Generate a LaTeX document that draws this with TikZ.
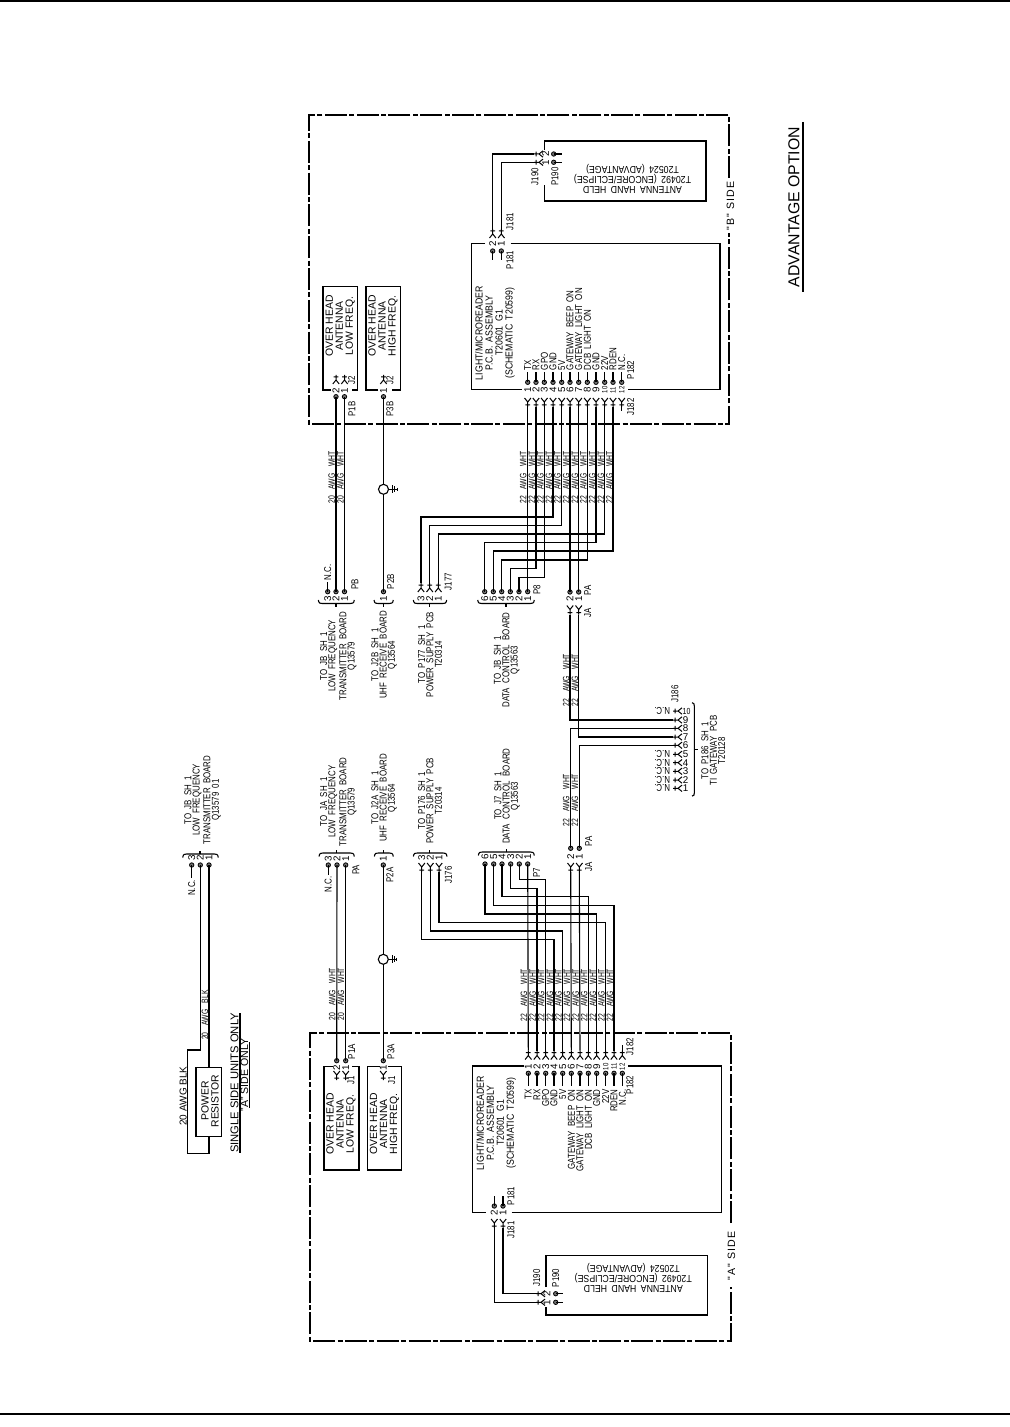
\documentclass[tikz,border=0pt]{standalone}
\usepackage{fontspec}
\setmainfont{Liberation Sans}
\newfontfamily\condA[FakeStretch=0.79,WordSpace=2]{Liberation Sans}
\newfontfamily\condB[FakeStretch=0.86,WordSpace=1.8]{Liberation Sans}
\newfontfamily\condW[FakeStretch=0.74,WordSpace=3.5]{Liberation Sans}
\newfontfamily\wideF[LetterSpace=12]{Liberation Sans}
\usetikzlibrary{calc}
\newcommand{\Dp}[3]{\node[dpin] (#1) at (#2,#3) {};}
\newcommand{\Fk}[4]{\coordinate (#1) at (#2,#3); \pic[rotate=#4] at (#1) {forkp};}
\newcommand{\BrH}[5]{\draw[wire] (#1,#3+#4) .. controls (#1+0.5,#3) and (#1+2,#3) .. (#1+4,#3) -- (#2-4,#3) .. controls (#2-2,#3) and (#2-0.5,#3) .. (#2,#3+#4);
  \draw[wire] ({(#1+#2)/2+#5},#3) -- ++(0,-#4);}
\tikzset{
  x=0.5pt,y=-0.5pt,
  wire/.style={line width=0.55pt,line cap=butt},
  boxline/.style={line width=0.65pt,line join=miter},
  frameline/.style={line width=0.6pt,dash pattern=on 11pt off 1.2pt on 2.5pt off 1.2pt},
  dpin/.style={circle,draw,fill=black!55,line width=0.4pt,inner sep=0pt,minimum size=2.2pt},
  txt/.style={rotate=90,inner sep=0pt,align=center,font=\condA\fontsize{5}{5}\selectfont},
  plainblock/.style={rotate=90,inner sep=0pt,align=center,font=\fontsize{5.2}{5}\selectfont},
  mainblock/.style={rotate=90,inner sep=0pt,align=center,font=\condB\fontsize{5.1}{5}\selectfont},
  tght/.style={rotate=90,inner sep=0pt,align=center,font=\condA\fontsize{5}{4.15}\selectfont},
  flip/.style={rotate=180,inner sep=0pt,align=center,font=\condB\fontsize{5.1}{5}\selectfont},
  awg/.style={rotate=90,inner sep=0pt,font=\condW\fontsize{4.6}{5}\selectfont},
  sidelbl/.style={rotate=90,inner sep=0pt,font=\wideF\fontsize{5.3}{5}\selectfont},
  num/.style={rotate=90,inner sep=0pt,font=\fontsize{4.9}{5}\selectfont},
  numtwo/.style={rotate=90,inner sep=0pt,font=\condA\fontsize{3.8}{5}\selectfont},
  numflat/.style={inner sep=0pt,font=\fontsize{4.9}{5}\selectfont},
  forkp/.pic={\draw[line width=0.5pt] (0,0) -- (0,5) (-2.4,2) -- (2.4,2) (-3.2,9) -- (0,5) -- (3.2,9);},
  gndp/.pic={\draw[line width=0.5pt] (5,0) -- (13,0) (9,-4) -- (9,4) (11.3,-3) -- (11.3,3) (13.6,-1.7) -- (13.6,1.7);},
}
\begin{document}
\begin{tikzpicture}
\useasboundingbox (0,0) rectangle (1010,1427);
\fill[white] (0,0) rectangle (1010,1427);
% page rules
\draw[line width=0.7pt] (0,1) -- (1010,1);
\draw[line width=0.7pt] (0,1414) -- (1010,1414);
% frames
\draw[frameline] (729,178) -- (729,115) -- (309,115) -- (309,424) -- (729,424) -- (729,233);
\draw[frameline] (731,1223) -- (731,1033) -- (310,1033) -- (310,1341) -- (731,1341) -- (731,1287);
\node[sidelbl] (bside) at (730.5,206) {"B" SIDE};
\node[sidelbl] (aside) at (731.5,1256) {"A" SIDE};
% title
\node[rotate=90,inner sep=0pt,font=\fontsize{7.9}{8}\selectfont] (title) at (794,207) {ADVANTAGE OPTION};
\draw[line width=0.6pt] (803,122) -- (803,292);

% ---------- B side boxes
\draw[boxline] (331,390) -- (323,390) -- (323,286.7) -- (357.5,286.7) -- (357.5,390) -- (352,390);
\draw[boxline] (378,390) -- (366,390) -- (366,286.7) -- (400.5,286.7) -- (400.5,390) -- (392,390);
\node[plainblock] (ohlb) at (340.3,326) {OVER HEAD\\ANTENNA\\LOW FREQ.};
\node[plainblock] (ohhb) at (383,326) {OVER HEAD\\ANTENNA\\HIGH FREQ.};
\draw[boxline] (485,243.7) -- (471.7,243.7) -- (471.7,389.3) -- (521.7,389.3);
\draw[boxline] (510.7,243.7) -- (720,243.7) -- (720,389.3) -- (628,389.3);
\node[mainblock] (mainb) at (495,333) {LIGHT/MICROREADER\\P.C.B. ASSEMBLY\\T20601 G1\\(SCHEMATIC T20599)};
\draw[boxline] (544.3,150) -- (544.3,141) -- (706,141) -- (706,201) -- (544.3,201) -- (544.3,185);
\node[flip] (handb) at (632.5,179) {ANTENNA HAND HELD\\T20492 (ENCORE/ECLIPSE)\\T20524 (ADVANTAGE)};

% ---------- A side boxes
\draw[boxline] (333.3,1066.7) -- (324,1066.7) -- (324,1170) -- (359,1170) -- (359,1066.7) -- (351.7,1066.7);
\draw[boxline] (380,1066.7) -- (367.3,1066.7) -- (367.3,1170) -- (401.7,1170) -- (401.7,1066.7) -- (388,1066.7);
\node[plainblock] (ohla) at (341,1124) {OVER HEAD\\ANTENNA\\LOW FREQ.};
\node[plainblock] (ohha) at (384.5,1124) {OVER HEAD\\ANTENNA\\HIGH FREQ.};
\draw[boxline] (524,1066) -- (472.7,1066) -- (472.7,1212.7) -- (486,1212.7);
\draw[boxline] (511.7,1212.7) -- (721.7,1212.7) -- (721.7,1066) -- (628.3,1066);
\node[mainblock] (maina) at (496.3,1123) {LIGHT/MICROREADER\\P.C.B. ASSEMBLY\\T20601 G1\\(SCHEMATIC T20599)};
\draw[boxline] (546,1287) -- (546,1255.3) -- (707.3,1255.3) -- (707.3,1315) -- (546,1315) -- (546,1306.7);
\node[flip] (handa) at (633.3,1278.3) {ANTENNA HAND HELD\\T20492 (ENCORE/ECLIPSE)\\T20524 (ADVANTAGE)};

% ---------- B main connector P182/J182
\foreach \n/\x/\t in {1/527.7/TX,2/536/RX,3/544.3/GPO,4/553/GND,5/561.7/5V,6/570/GATEWAY BEEP ON,7/578.7/GATEWAY LIGHT ON,8/587.3/DCB LIGHT ON,9/596/GND,10/604.7/22V,11/613/RDEN,12/621.7/N.C.}{
  \Dp{bp\n}{\x}{382.3}
  \Fk{bj\n}{\x}{407}{180}
  \coordinate (bs\n) at (\x,372);
  \draw[wire] (bp\n.center) -- (bs\n);
  \node[txt,anchor=west] (bl\n) at (\x,370.5) {\t};
}
\foreach \n/\x in {1/527.7,2/536,3/544.3,4/553,5/561.7,6/570,7/578.7,8/587.3,9/596}{\node[num] (bn\n) at (\x,390) {\n};}
\foreach \n/\x in {10/604.7,11/613,12/621.7}{\node[numtwo] (bn\n) at (\x,390) {\n};}
\coordinate (bst) at (621.7,411); \draw[wire] (bj12) -- (bst);
\node[txt] (lp182b) at (630.7,370) {P182};
\node[txt] (lj182b) at (630.7,407) {J182};

% ---------- A main connector
\foreach \n/\x/\t in {1/528.3/TX,2/537/RX,3/545.7/GPO,4/554/GND,5/562.7/5V,6/571.3/GATEWAY BEEP ON,7/580/GATEWAY LIGHT ON,8/588.3/DCB LIGHT ON,9/596.7/GND,10/605.7/22V,11/614/RDEN,12/622.3/N.C.}{
  \Dp{ap\n}{\x}{1073.3}
  \Fk{aj\n}{\x}{1050.5}{0}
  \coordinate (as\n) at (\x,1086);
  \draw[wire] (ap\n.center) -- (as\n);
  \node[txt,anchor=east] (al\n) at (\x,1089) {\t};
}
\foreach \n/\x in {1/528.3,2/537,3/545.7,4/554,5/562.7,6/571.3,7/580,8/588.3,9/596.7}{\node[num] (an\n) at (\x,1066.7) {\n};}
\foreach \n/\x in {10/605.7,11/614,12/622.3}{\node[numtwo] (an\n) at (\x,1066.7) {\n};}
\coordinate (ast) at (622.3,1045); \draw[wire] (aj12) -- (ast);
\node[txt] (lp182a) at (630,1085) {P182};
\node[txt] (lj182a) at (630,1046.7) {J182};

% ---------- overhead antenna pins B
\foreach \n/\x/\k in {2/336/2,1/344.5/1,3/383.5/1}{
  \Dp{ob\n}{\x}{396.7}
  \Fk{oj\n}{\x}{375}{0}
  \node[num] (obn\n) at (\x,390.5) {\k};
}
\node[txt] (lj2a) at (351.7,380) {J2};
\node[txt] (lj2b) at (390,380) {J2};
\node[txt] (lp1b) at (352,409) {P1B};
\node[txt] (lp3b) at (390,409) {P3B};

% ---------- PB, P2B
\foreach \n/\x in {3/327.7,2/336,1/344.5}{
  \Dp{pb\n}{\x}{591.7}
  \node[num] (pbn\n) at (\x,598.5) {\n};
}
\coordinate (pbs) at (327.7,581.7); \draw[wire] (pb3.center) -- (pbs);
\node[txt,anchor=west] (ncb) at (327.7,580.5) {N.C.};
\Dp{ptb}{383.5}{591.7}
\node[num] (ptbn) at (383.5,598.5) {1};
\node[txt] (lpb) at (355,584) {PB};
\node[txt] (lp2b) at (390.7,581.7) {P2B};
\BrH{318.3}{354.3}{603.5}{-3.5}{-0.3}
\BrH{374}{393.3}{603.5}{-3.5}{0}
\node[tght] (tojb1) at (338.3,656) {TO JB SH 1\\LOW FREQUENCY\\TRANSMITTER BOARD\\Q13579};
\node[tght] (toj2b) at (384,655) {TO J2B SH 1\\UHF RECEIVE BOARD\\Q13564};
% J177
\foreach \n/\x/\k in {3/421/3,2/429.7/2,1/438.3/1}{
  \Fk{jg\n}{\x}{583}{0}
  \node[num] (jgn\n) at (\x,599) {\k};
}
\node[txt] (lj177) at (448.3,581.7) {J177};
\BrH{413.3}{446.7}{603.5}{-3.5}{-0.5}
\node[tght] (top177) at (430,654.5) {TO P177 SH 1\\POWER SUPPLY PCB\\T20314};
% P8
\foreach \n/\x in {1/527.7,2/519,3/510.3,4/501.7,5/493.3,6/484.7}{
  \Dp{pe\n}{\x}{591.7}
  \node[num] (pen\n) at (\x,599) {\n};
}
\node[txt] (lp8) at (537,590) {P8};
\BrH{477.7}{534.3}{603.5}{-3.5}{0}
\node[tght] (tojb2) at (506.7,660) {TO JB SH 1\\DATA CONTROL BOARD\\Q13563};
% PA / JA B
\Dp{pab2}{570}{592}\Dp{pab1}{578.7}{592}
\node[num] (pabn2) at (570,599) {2};
\node[num] (pabn1) at (578.7,599) {1};
\Fk{jb2}{570}{614.5}{180}\Fk{jb1}{578.7}{614.5}{180}
\node[txt] (lpab) at (587.7,590.7) {PA};
\node[txt] (ljab) at (587.7,613) {JA};

% ---------- lower labels A side
\foreach \n/\x in {3/328.3,2/337,1/345.7}{
  \Dp{pa\n}{\x}{865}
  \node[num] (pan\n) at (\x,858.3) {\n};
}
\coordinate (pas) at (328.3,875); \draw[wire] (pa3.center) -- (pas);
\node[txt,anchor=east] (nca) at (328.3,876) {N.C.};
\node[txt] (lpa) at (356,870) {PA};
\Dp{pta}{383.3}{865}
\node[num] (ptan) at (383.3,858.3) {1};
\node[txt] (lp2a) at (390,875) {P2A};
\BrH{319}{354.3}{853}{3.5}{0}
\BrH{374.3}{393.3}{853}{3.5}{0}
\node[tght] (toja) at (338.3,801.7) {TO JA SH 1\\LOW FREQUENCY\\TRANSMITTER BOARD\\Q13579};
\node[tght] (toj2a) at (384,798) {TO J2A SH 1\\UHF RECEIVE BOARD\\Q13564};
\foreach \n/\x/\k in {3/421.7/3,2/430.3/2,1/439/1}{
  \Fk{jf\n}{\x}{872}{180}
  \node[num] (jfn\n) at (\x,857.3) {\k};
}
\node[txt] (lj176) at (448.3,875) {J176};
\BrH{413.3}{447}{853}{3.5}{-0.5}
\node[tght] (top176) at (430,800.7) {TO P176 SH 1\\POWER SUPPLY PCB\\T20314};
\foreach \n/\x in {1/527.7,2/519.3,3/510.7,4/502,5/493.7,6/485}{
  \Dp{ps\n}{\x}{864}
  \node[num] (psn\n) at (\x,856.7) {\n};
}
\node[txt] (lp7) at (536.7,873) {P7};
\BrH{478.3}{534.3}{852}{3.5}{0}
\node[tght] (toj7) at (507,796) {TO J7 SH 1\\DATA CONTROL BOARD\\Q13563};
\Dp{paa2}{570.7}{848.3}\Dp{paa1}{579.3}{848.3}
\node[num] (paan2) at (570.7,857) {2};
\node[num] (paan1) at (579.3,857) {1};
\Fk{ja2}{570.7}{872}{180}\Fk{ja1}{579.3}{872}{180}
\node[txt] (lpaa) at (588.7,841.7) {PA};
\node[txt] (ljaa) at (588.7,866.7) {JA};

% ---------- J186
\foreach \n/\y in {9/720,8/728.3,7/737,6/745.3}{
  \Fk{gj\n}{673}{\y}{90}
  \node[numflat] (gn\n) at (685.5,\y) {\n};
}
\foreach \n/\y in {10/711,5/754.3,4/762.7,3/771.3,2/780,1/788.3}{
  \Fk{gj\n}{673}{\y}{90}
  \node[inner sep=0pt,rotate=180,anchor=west,font=\condA\fontsize{5}{5}\selectfont] (gl\n) at (670.5,\y) {N.C.};
}
\foreach \n/\y in {5/754.3,4/762.7,3/771.3,2/780,1/788.3}{\node[numflat] (gn\n) at (685.5,\y) {\n};}
\node[inner sep=0pt,font=\condA\fontsize{4.4}{5}\selectfont] (gn10) at (686.5,711) {10};
\node[txt] (lj186) at (675,694) {J186};
\draw[wire] (692,702.7) .. controls (694,703) and (694.3,704) .. (694.3,706) -- (694.3,793) .. controls (694.3,795) and (694,796) .. (692,796);
\draw[wire] (694.3,749.3) -- (698.3,749.3);
\node[tght] (top186) at (713.3,750.7) {TO P186 SH 1\\TI GATEWAY PCB\\T20128};

% ---------- J181 / J190, B
\foreach \n/\x in {2/492.7,1/501.3}{
  \Dp{cp\n}{\x}{251}
  \coordinate (cs\n) at (\x,260); \draw[wire] (cp\n.center) -- (cs\n);
  \Fk{cj\n}{\x}{229}{0}
  \node[num] (cn\n) at (\x,243.3) {\n};
}
\node[txt] (lj181b) at (510,221.7) {J181};
\node[txt] (lp181b) at (510,260) {P181};
\foreach \n/\y in {2/154,1/162.3}{
  \Fk{dj\n}{534}{\y}{90}
  \Dp{dp\n}{553.7}{\y}
  \coordinate (ds\n) at (561.7,\y); \draw[wire] (dp\n.center) -- (ds\n);
  \node[num] (dn\n) at (545.7,\y) {\n};
}
\node[txt] (lj190b) at (535,176.7) {J190};
\node[txt] (lp190b) at (555,176.7) {P190};
\draw[wire] (cj2) |- (dj2);
\draw[wire] (cj1) |- (dj1);

% ---------- J181 / J190, A
\foreach \n/\x in {2/494.3,1/503}{
  \Dp{ep\n}{\x}{1206}
  \coordinate (es\n) at (\x,1196); \draw[wire] (ep\n.center) -- (es\n);
  \Fk{ej\n}{\x}{1228}{180}
  \node[num] (en\n) at (\x,1212.7) {\n};
}
\node[txt] (lj181a) at (511,1230) {J181};
\node[txt] (lp181a) at (511,1196) {P181};
\foreach \n/\y in {2/1293.7,1/1302.3}{
  \Fk{fj\n}{536}{\y}{90}
  \Dp{fp\n}{555.7}{\y}
  \coordinate (fs\n) at (562.7,\y); \draw[wire] (fp\n.center) -- (fs\n);
  \node[num] (fn\n) at (547,\y) {\n};
}
\node[txt] (lj190a) at (536.7,1278) {J190};
\node[txt] (lp190a) at (555.7,1278) {P190};
\draw[wire] (ej2) |- (fj1);
\draw[wire] (ej1) |- (fj2);

% ---------- overhead pins A
\foreach \n/\x/\k in {2/336.7/2,1/345.7/1,3/383.3/1}{
  \Dp{oa\n}{\x}{1060.7}
  \Fk{ok\n}{\x}{1080}{180}
  \node[num] (oan\n) at (\x,1067.3) {\k};
}
\node[txt] (lj1a) at (351,1080) {J1};
\node[txt] (lj1b) at (391.7,1080) {J1};
\node[txt] (lp1a) at (351.7,1051.7) {P1A};
\node[txt] (lp3a) at (391,1051.7) {P3A};

% ---------- straight wires
\draw[wire] (ob2.center) -- (pb2.center);
\draw[wire] (ob1.center) -- (pb1.center);
\draw[wire] (ob3.center) -- (ptb.center);
\draw[wire] (pa2.center) -- (oa2.center);
\draw[wire] (pa1.center) -- (oa1.center);
\draw[wire] (pta.center) -- (oa3.center);
\node[circle,draw,line width=0.55pt,fill=white,inner sep=0pt,minimum size=5pt] (gb) at (383.5,489.3) {};
\pic at (gb.center) {gndp};
\node[circle,draw,line width=0.55pt,fill=white,inner sep=0pt,minimum size=5pt] (ga) at (383.3,959.3) {};
\pic at (ga.center) {gndp};

% ---------- B side routing
\draw[wire] (bj1) -- (pe1.center);
\draw[wire] (bj2) -- (bj2 |- 0,568.7) -| (pe3.center);
\draw[wire] (bj3) -- (bj3 |- 0,577.3) -| (pe2.center);
\draw[wire] (bj4) -- (bj4 |- 0,517) -| (jg3);
\draw[wire] (bj5) -- (bj5 |- 0,525.3) -| (jg2);
\draw[wire] (bj10) -- (bj10 |- 0,534) -| (jg1);
\draw[wire] (bj9) -- (bj9 |- 0,542.3) -| (pe6.center);
\draw[wire] (bj11) -- (bj11 |- 0,551) -| (pe5.center);
\draw[wire] (bj8) -- (bj8 |- 0,560) -| (pe4.center);
\draw[wire] (bj6) -- (pab2.center);
\draw[wire] (bj7) -- (pab1.center);
% ---------- A side routing
\draw[wire] (ps1.center) -- (aj1);
\draw[wire] (ps2.center) -- (ps2.center |- 0,879.3) -| (aj3);
\draw[wire] (ps3.center) -- (ps3.center |- 0,888.3) -| (aj2);
\draw[wire] (ps4.center) -- (ps4.center |- 0,896.7) -| (aj8);
\draw[wire] (ps5.center) -- (ps5.center |- 0,905.3) -| (aj11);
\draw[wire] (ps6.center) -- (ps6.center |- 0,914) -| (aj9);
\draw[wire] (jf1) -- (jf1 |- 0,922.7) -| (aj10);
\draw[wire] (jf2) -- (jf2 |- 0,931) -| (aj5);
\draw[wire] (jf3) -- (jf3 |- 0,939.3) -| (aj4);
\draw[wire] (ja2) -- (aj6);
\draw[wire] (ja1) -- (aj7);
% ---------- gateway routing
\draw[wire] (jb2) |- (gj9);
\draw[wire] (jb1) |- (gj7);
\draw[wire] (paa2.center) |- (gj8);
\draw[wire] (paa1.center) |- (gj6);

% ---------- wire labels
\node[awg] (wb1) at (331.7,477.5) {20 AWG WHT};
\node[awg] (wb2) at (340.4,477.5) {20 AWG WHT};
\node[awg] (wa1) at (332.3,994) {20 AWG WHT};
\node[awg] (wa2) at (341,994) {20 AWG WHT};
\foreach \n/\x in {1/523.3,2/532,3/540.4,4/549,5/557.5,6/566.2,7/575,8/583.5,9/592.2,10/601,11/609.4}{
  \node[awg] (wbm\n) at (\x,477.5) {22 AWG WHT};
}
\foreach \n/\x in {1/524,2/532.7,3/541.3,4/550,5/558.5,6/567,7/575.8,8/584.3,9/593,10/601.5,11/610}{
  \node[awg] (wam\n) at (\x,995) {22 AWG WHT};
}
\node[awg] (wg1) at (566.3,680) {22 AWG WHT};
\node[awg] (wg2) at (575,680) {22 AWG WHT};
\node[awg] (wg3) at (566.3,800) {22 AWG WHT};
\node[awg] (wg4) at (575,800) {22 AWG WHT};

% ---------- single side units
\foreach \n/\x in {3/191.7,2/200.3,1/209}{
  \Dp{sp\n}{\x}{865}
  \node[num] (spn\n) at (\x,857.7) {\n};
}
\coordinate (sps) at (191.7,878.3); \draw[wire] (sp3.center) -- (sps);
\node[txt,anchor=east] (ncs) at (191.7,879.5) {N.C.};
\BrH{182.7}{218.3}{854}{3.5}{-0.5}
\node[tght] (tojbs) at (202.5,800) {TO JB SH 1\\LOW FREQUENCY\\TRANSMITTER BOARD\\Q13579 01};
\node[draw,boxline,minimum width=12.85pt,minimum height=34.7pt,inner sep=0pt] (res) at (208.85,1102) {};
\node[plainblock] (restx) at (210,1101) {POWER\\RESISTOR};
\coordinate (rc) at (209,1153.3);
\draw[wire] (sp2.center) -- (200.3,1050) -- (187.7,1050) -- (187.7,1153.3) -- (rc) -- (rc |- res.south);
\draw[wire] (sp1.center) -- (sp1.center |- res.north);
\node[rotate=90,inner sep=0pt,font=\fontsize{5}{5}\selectfont] (bl1) at (183.3,1096) {20 AWG BLK};
\node[awg] (bl2) at (205,1015) {20 AWG BLK};
\node[rotate=90,inner sep=0pt,font=\fontsize{5.6}{5}\selectfont] (ssu) at (234.5,1083) {SINGLE SIDE UNITS ONLY};
\draw[line width=0.6pt] (240,1013) -- (240,1153);
\node[rotate=90,inner sep=0pt,font=\fontsize{5.3}{5}\selectfont] (aso) at (244.5,1075) {"A" SIDE ONLY};
\draw[line width=0.6pt] (249.5,1042) -- (249.5,1108);
\end{tikzpicture}
\end{document}
